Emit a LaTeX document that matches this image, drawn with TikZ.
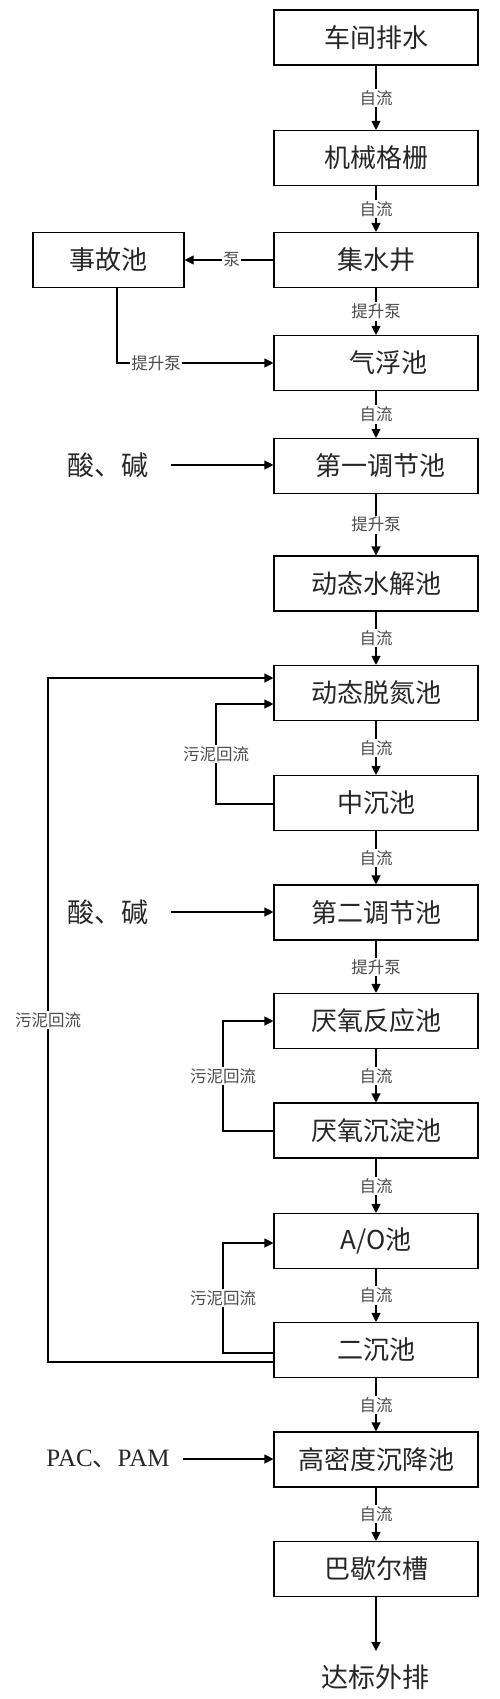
\documentclass[tikz,border=0pt]{standalone}
\usepackage{fontspec}
\setmainfont{Noto Sans CJK SC}
\newfontfamily\serifen{Liberation Serif}
\usetikzlibrary{arrows.meta}
\tikzset{
  box/.style={draw, line width=1.1pt, minimum width=204pt, minimum height=55pt, inner sep=0pt, font=\fontsize{26}{26}\selectfont, text=black!85},
  lab/.style={fill=white, inner sep=1.5pt, font=\fontsize{16.5}{17}\selectfont, text=black!70},
  side/.style={inner sep=0pt, font=\fontsize{27}{27}\selectfont, text=black!85},
  arr/.style={line width=1.1pt, -{Triangle[length=9pt,width=9pt]}},
  ln/.style={line width=1.1pt}
}
\begin{document}
\begin{tikzpicture}[x=1pt,y=-1pt]
\useasboundingbox (0,0) rectangle (500,1699);
\node[box] (b1) at (376,37.5) {车间排水};
\node[box] (b2) at (376,158) {机械格栅};
\node[box] (b3) at (376,260) {集水井};
\node[box, minimum width=151pt] (acc) at (108.5,260) {事故池};
\node[box] (b4) at (376,363) {\hspace{24pt}气浮池};
\node[box] (b5) at (376,466) {\hspace{8pt}第一调节池};
\node[box] (b6) at (376,583.5) {动态水解池};
\node[box] (b7) at (376,693) {动态脱氮池};
\node[box] (b8) at (376,803) {中沉池};
\node[box] (b9) at (376,912.5) {第二调节池};
\node[box] (b10) at (376,1021) {厌氧反应池};
\node[box] (b11) at (376,1130.5) {厌氧沉淀池};
\node[box] (b12) at (376,1241) {A/O池};
\node[box] (b13) at (376,1350) {二沉池};
\node[box] (b14) at (376,1459.5) {高密度沉降池};
\node[box] (b15) at (376,1569) {巴歇尔槽};
\node[side] (out) at (375,1677) {达标外排};
\node[side] (acid1) at (108,465) {酸、碱};
\node[side] (acid2) at (108,912) {酸、碱};
\node[side, font=\fontsize{25}{25}\selectfont] (pac) at (108,1459) {{\serifen PAC}、{\serifen PAM}};
% main flow
\draw[arr] (b1) -- node[lab] {自流} (b2);
\draw[arr] (b2) -- node[lab] {自流} (b3);
\draw[arr] (b3) -- node[lab] {提升泵} (b4);
\draw[arr] (b4) -- node[lab] {自流} (b5);
\draw[arr] (b5) -- node[lab] {提升泵} (b6);
\draw[arr] (b6) -- node[lab] {自流} (b7);
\draw[arr] (b7) -- node[lab] {自流} (b8);
\draw[arr] (b8) -- node[lab] {自流} (b9);
\draw[arr] (b9) -- node[lab] {提升泵} (b10);
\draw[arr] (b10) -- node[lab] {自流} (b11);
\draw[arr] (b11) -- node[lab] {自流} (b12);
\draw[arr] (b12) -- node[lab] {自流} (b13);
\draw[arr] (b13) -- node[lab] {自流} (b14);
\draw[arr] (b14) -- node[lab] {自流} (b15);
\coordinate (oe) at (376,1651);
\draw[arr] (b15) -- (oe);
% accident pool
\draw[arr] (b3.west) -- node[lab, pos=0.47] {泵} (acc.east);
\coordinate (a1) at (117,288);
\coordinate (a2) at (117,363);
\draw[arr] (a1) -- (a2) -- node[lab, pos=0.25] {提升泵} (b4.west |- a2);
% dosing
\coordinate (d1) at (171,465);
\coordinate (d2) at (171,912);
\coordinate (d3) at (183,1459);
\draw[arr] (d1) -- (b5.west |- d1);
\draw[arr] (d2) -- (b9.west |- d2);
\draw[arr] (d3) -- (b14.west |- d3);
% big sludge return
\coordinate (L1) at (48,1362);
\coordinate (L2) at (48,678);
\draw[arr] (b13.west |- L1) -- (L1) -- node[lab] {污泥回流} (L2) -- (b7.west |- L2);
% small loops
\coordinate (s1a) at (216,804);
\coordinate (s1b) at (216,704);
\draw[arr] (b8.west |- s1a) -- (s1a) -- node[lab] {污泥回流} (s1b) -- (b7.west |- s1b);
\coordinate (s2a) at (223,1131);
\coordinate (s2b) at (223,1021);
\draw[arr] (b11.west |- s2a) -- (s2a) -- node[lab] {污泥回流} (s2b) -- (b10.west |- s2b);
\coordinate (s3a) at (223,1353);
\coordinate (s3b) at (223,1243);
\draw[arr] (b13.west |- s3a) -- (s3a) -- node[lab] {污泥回流} (s3b) -- (b12.west |- s3b);
\end{tikzpicture}
\end{document}
